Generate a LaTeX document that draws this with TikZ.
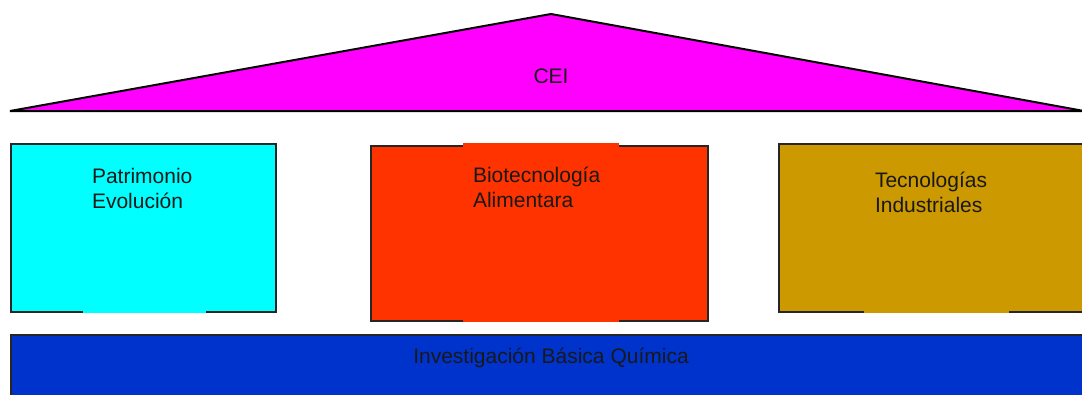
\documentclass[tikz,border=0pt]{standalone}
\usepackage{fontspec}
\setmainfont{Liberation Sans}
\definecolor{cMag}{HTML}{FF00FF}
\definecolor{cCyan}{HTML}{00FFFF}
\definecolor{cRed}{HTML}{FF3300}
\definecolor{cGold}{HTML}{CC9900}
\definecolor{cBlue}{HTML}{0033CC}
\tikzset{
  frame/.style={draw=black!85, line width=2pt, inner sep=0pt, outer sep=0pt},
  patch/.style={inner sep=0pt, outer sep=0pt, draw=none},
  lbl/.style={inner sep=0pt, outer sep=0pt, font=\fontsize{21}{25}\selectfont, text=black!90}
}
\newcommand{\twolines}[2]{\vtop{\baselineskip=25pt\hbox{#1}\hbox{#2}}}
\begin{document}
\begin{tikzpicture}[x=1pt,y=-1pt]
\useasboundingbox (0,0) rectangle (1082,394);
% roof
\draw[fill=cMag, line width=2pt, line join=miter] (10,111) -- (551,14) -- (1084,111) -- cycle;
\node[lbl] (cei) at (551,76) {CEI};
% pillars
\node[frame, fill=cCyan, minimum width=265pt, minimum height=168pt] (pat) at (143.5,227.5) {};
\node[frame, fill=cRed, minimum width=337pt, minimum height=175pt] (bio) at (539.5,233.5) {};
\node[frame, fill=cGold, minimum width=320pt, minimum height=168pt] (tec) at (939,227.5) {};
% text box patches
\node[patch, fill=cCyan, minimum width=123pt, minimum height=60pt] (patP) at (144.5,283) {};
\node[patch, fill=cRed, minimum width=156pt, minimum height=179pt] (bioP) at (541,232) {};
\node[patch, fill=cGold, minimum width=145pt, minimum height=60pt] (tecP) at (936.5,283) {};
% labels
\node[lbl, anchor=base west] (patL) at (92,183) {\twolines{Patrimonio}{Evolución}};
\node[lbl, anchor=base west] (bioL) at (473,182) {\twolines{Biotecnología}{Alimentara}};
\node[lbl, anchor=base west] (tecL) at (875,187) {\twolines{Tecnologías}{Industriales}};
% base
\node[frame, fill=cBlue, minimum width=1085pt, minimum height=70pt] (base) at (553.5,370) {};
\node[lbl] (baseL) at (551,358) {Investigación Básica Química};
\end{tikzpicture}
\end{document}
